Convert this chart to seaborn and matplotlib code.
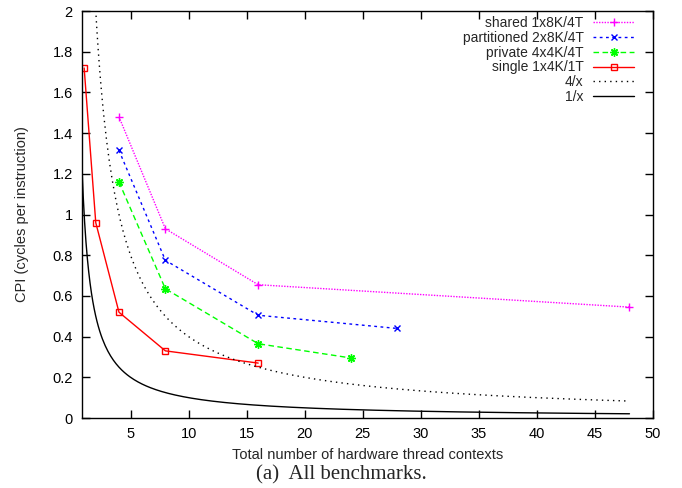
import numpy as np
import pandas as pd
import matplotlib
matplotlib.use("Agg")
import matplotlib.pyplot as plt
from matplotlib.ticker import FuncFormatter
import seaborn as sns

# Data
shared_x = [4, 8, 16, 48]
shared_y = [1.48, 0.93, 0.655, 0.545]
part_x = [4, 8, 16, 28]
part_y = [1.315, 0.775, 0.505, 0.44]
priv_x = [4, 8, 16, 24]
priv_y = [1.16, 0.635, 0.365, 0.295]
single_x = [1, 2, 4, 8, 16]
single_y = [1.72, 0.96, 0.52, 0.33, 0.27]

x_ticks = [5, 10, 15, 20, 25, 30, 35, 40, 45, 50]
y_ticks = [0, 0.2, 0.4, 0.6, 0.8, 1, 1.2, 1.4, 1.6, 1.8, 2]

sns.set_theme(style="ticks")
plt.rcParams['font.family'] = ['Liberation Sans', 'DejaVu Sans']
plt.rcParams['font.size'] = 10

fig = plt.figure(figsize=(6.82, 4.88), dpi=100)
ax = fig.add_axes([0.120, 0.1434, 0.837, 0.834])

fx = np.linspace(0.8, 48, 400)
lw = 1.0
sns.lineplot(x=shared_x, y=shared_y, ax=ax, color="#ff00ff", linestyle=(0, (1, 1)),
             marker="+", markersize=6, markeredgewidth=1.0, markeredgecolor="#ff00ff",
             lw=lw, label="shared 1x8K/4T")
sns.lineplot(x=part_x, y=part_y, ax=ax, color="#0000ff", linestyle=(0, (2, 2.5)),
             marker="x", markersize=5, markeredgewidth=1.0, markeredgecolor="#0000ff",
             lw=lw, label="partitioned 2x8K/4T")
sns.lineplot(x=priv_x, y=priv_y, ax=ax, color="#00ff00", linestyle=(0, (4, 2.5)),
             marker=(8, 2, 0), markersize=6, markeredgewidth=1.0, markeredgecolor="#00ff00",
             lw=lw, label="private 4x4K/4T")
sns.lineplot(x=single_x, y=single_y, ax=ax, color="#ff0000", linestyle="-",
             marker="s", markersize=5, markerfacecolor="none", markeredgecolor="#ff0000",
             markeredgewidth=1.0, lw=lw, label="single 1x4K/1T")
sns.lineplot(x=fx, y=4 / fx, ax=ax, color="black", linestyle=(0, (1, 3)), lw=lw, label="4/x")
sns.lineplot(x=fx, y=1 / fx, ax=ax, color="black", linestyle="-", lw=lw, label="1/x")

ax.set_xlim(0.8, 50)
ax.set_ylim(0, 2)
ax.set_xticks(x_ticks)
ax.set_yticks(y_ticks)
ax.yaxis.set_major_formatter(FuncFormatter(lambda v, p: "%g" % v))
ax.tick_params(direction="in", length=6, width=1, top=True, right=True,
               labelsize=10.5, colors="black", pad=6.5)
for s in ax.spines.values():
    s.set_linewidth(1.0)
    s.set_color("black")
ax.set_xlabel("Total number of hardware thread contexts", fontsize=10.5, labelpad=5)
ax.set_ylabel("CPI (cycles per instruction)", fontsize=10.5, labelpad=17)

leg = ax.legend(loc="upper right", bbox_to_anchor=(0.985, 1.012), frameon=False,
                markerfirst=False, handlelength=2.95, labelspacing=0.06,
                handletextpad=0.7, fontsize=10, borderaxespad=0.3)
for col in leg._legend_handle_box.get_children():
    col.align = "right"

fig.text(0.5, 0.027, "(a)  All benchmarks.", ha="center", va="center",
         family=["Liberation Serif", "DejaVu Serif"], fontsize=15)

fig.savefig("out.png", dpi=100)
